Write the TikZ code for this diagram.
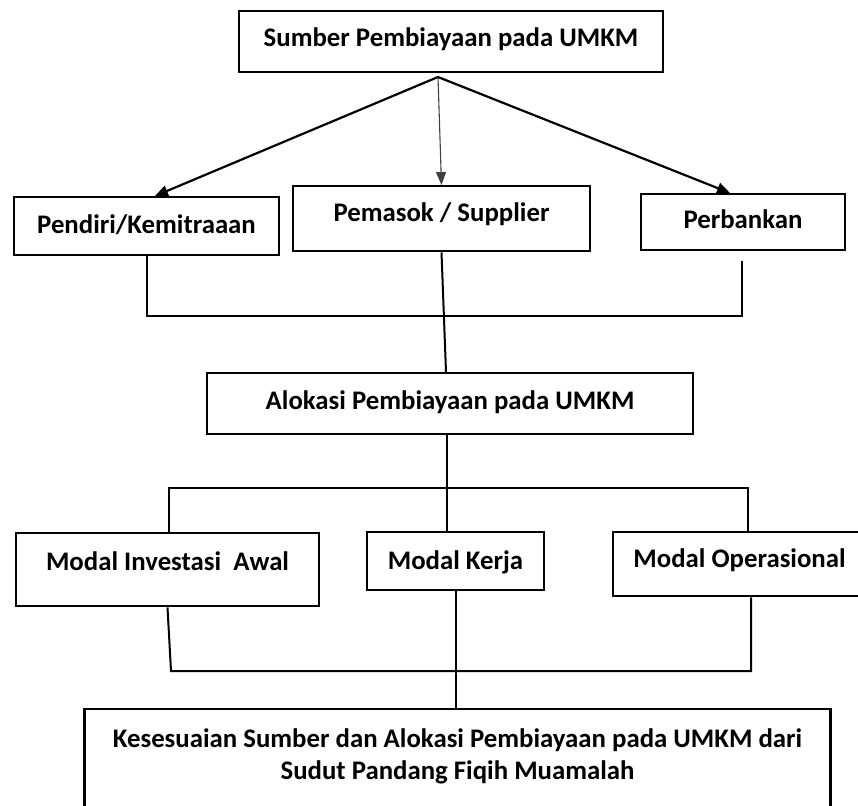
\documentclass[tikz,border=0pt]{standalone}
\usepackage{fontspec}
\setmainfont{Carlito}
\usetikzlibrary{arrows.meta,calc}
\begin{document}
\begin{tikzpicture}[x=1pt,y=-1pt,
  box/.style={draw=black, line width=2.4pt, inner sep=0pt, anchor=north,
    font=\bfseries\fontsize{26.8}{32}\selectfont},
  conn/.style={draw=black, line width=2pt},
  arr/.style={draw=black, line width=2.2pt, -{Triangle[length=13pt,width=11pt]}},
  thinarr/.style={draw=black!75, line width=1.1pt, -{Triangle[length=13pt,width=10pt]}},
  txt/.style={inner sep=0pt, anchor=north, align=center,
    font=\bfseries\fontsize{26.8}{32}\selectfont}]
\useasboundingbox (0,0) rectangle (858,805);
\clip (0,0) rectangle (858,805);

% boxes
\node[box, minimum width=424pt, text height=35pt, text depth=26pt] (top) at (451,10) {Sumber Pembiayaan pada UMKM};
\node[box, minimum width=265pt, text height=36pt, text depth=22pt] (pend) at (146.5,196) {Pendiri/Kemitraaan};
\node[box, minimum width=297pt, text height=35pt, text depth=30pt] (pem) at (441.5,185) {Pemasok / Supplier};
\node[box, minimum width=204pt, text height=34pt, text depth=22pt] (perb) at (743,193) {Perbankan};
\node[box, minimum width=486pt, text height=36pt, text depth=25pt] (alo) at (450,372) {Alokasi Pembiayaan pada UMKM};
\node[box, minimum width=303pt, text height=37pt, text depth=36pt] (inv) at (167.5,532) {Modal Investasi\ \ Awal};
\node[box, minimum width=177pt, text height=37pt, text depth=21pt] (kerja) at (455.5,531) {Modal Kerja};
\node[box, minimum width=253pt, text height=35pt, text depth=29pt] (op) at (739.5,531) {Modal Operasional};
\node[box, minimum width=746pt, minimum height=130pt] (fin) at (457.5,708) {};
\node[txt] (fintxt) at (457.5,708) {\rule{0pt}{39pt}Kesesuaian Sumber dan Alokasi Pembiayaan pada UMKM dari\\Sudut Pandang Fiqih Muamalah};

% arrows from the source box
\coordinate (src) at (438,77);
\draw[arr] (src) -- ([xshift=8.5pt]pend.north);
\draw[thinarr] (src) -- (pem.north);
\draw[arr] (src) -- ([xshift=-13pt]perb.north);

% sources to allocation
\coordinate (busA) at (0,316);
\draw[conn] (pend.south) |- ([xshift=-1pt]perb.south |- busA) -- ([xshift=-1pt,yshift=-10pt]perb.south);
\draw[conn] (pem.south) -- ([xshift=-4pt]alo.north);

% allocation to the three kinds of capital
\coordinate (busB) at (0,488);
\draw[conn] ([xshift=-3pt]alo.south) -- ([xshift=-8.5pt]kerja.north);
\draw[conn] ([xshift=1.5pt]inv.north) |- ([xshift=8.5pt]op.north |- busB) -- ([xshift=8.5pt]op.north);

% capital to the final box
\coordinate (busC) at (171,671);
\draw[conn] (inv.south) -- (busC) -- ([xshift=11.5pt]op.south |- busC) -- ([xshift=11.5pt]op.south);
\draw[conn] (kerja.south) -- (kerja.south |- fin.north);
\end{tikzpicture}
\end{document}
